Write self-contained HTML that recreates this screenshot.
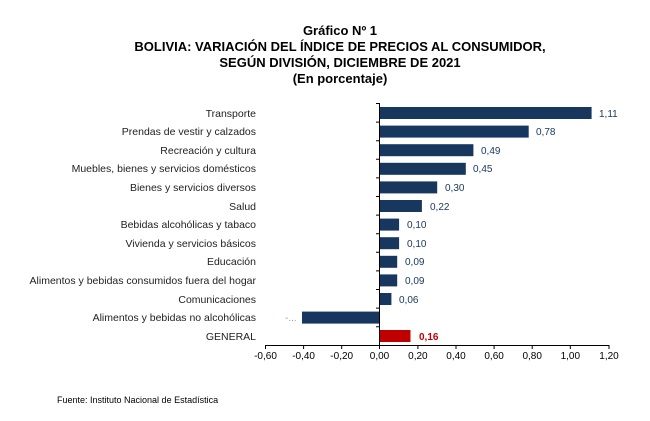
<!DOCTYPE html>
<html><head><meta charset="utf-8"><style>body{margin:0;background:#fff}svg{display:block}</style></head><body>
<svg width="650" height="421" xmlns="http://www.w3.org/2000/svg" font-family="Liberation Sans, Arial, sans-serif">
<rect width="650" height="421" fill="#fff"/>
<g font-weight="bold" font-size="13" text-anchor="middle" fill="#000">
<text x="340" y="35">Gráfico Nº 1</text>
<text x="340" y="51">BOLIVIA: VARIACIÓN DEL ÍNDICE DE PRECIOS AL CONSUMIDOR,</text>
<text x="340" y="67">SEGÚN DIVISIÓN, DICIEMBRE DE 2021</text>
<text x="340" y="83">(En porcentaje)</text>
</g>
<g font-size="10.5" text-anchor="end" fill="#222">
<text x="256" y="117">Transporte</text>
<text x="256" y="135">Prendas de vestir y calzados</text>
<text x="256" y="154">Recreación y cultura</text>
<text x="256" y="172">Muebles, bienes y servicios domésticos</text>
<text x="256" y="191">Bienes y servicios diversos</text>
<text x="256" y="210">Salud</text>
<text x="256" y="228">Bebidas alcohólicas y tabaco</text>
<text x="256" y="247">Vivienda y servicios básicos</text>
<text x="256" y="265">Educación</text>
<text x="256" y="284">Alimentos y bebidas consumidos fuera del hogar</text>
<text x="256" y="303">Comunicaciones</text>
<text x="256" y="321">Alimentos y bebidas no alcohólicas</text>
<text x="256" y="340">GENERAL</text>
</g>
<g fill="#17375e">
<rect x="380" y="107" width="211.6" height="12"/>
<rect x="380" y="125.6" width="148.7" height="12"/>
<rect x="380" y="144.2" width="93.4" height="12"/>
<rect x="380" y="162.8" width="85.8" height="12"/>
<rect x="380" y="181.4" width="57.2" height="12"/>
<rect x="380" y="200" width="41.9" height="12"/>
<rect x="380" y="218.6" width="19.1" height="12"/>
<rect x="380" y="237.2" width="19.1" height="12"/>
<rect x="380" y="255.8" width="17.2" height="12"/>
<rect x="380" y="274.4" width="17.2" height="12"/>
<rect x="380" y="293" width="11.4" height="12"/>
<rect x="302" y="311.6" width="78" height="12"/>
</g>
<rect x="380" y="330" width="30.5" height="12" fill="#c00000"/>
<g font-size="10" fill="#17375e">
<text x="599" y="117">1,11</text>
<text x="536" y="135">0,78</text>
<text x="481" y="154">0,49</text>
<text x="473" y="172">0,45</text>
<text x="445" y="191">0,30</text>
<text x="430" y="210">0,22</text>
<text x="407" y="228">0,10</text>
<text x="407" y="247">0,10</text>
<text x="405" y="265">0,09</text>
<text x="405" y="284">0,09</text>
<text x="399" y="303">0,06</text>
<text x="285" y="321" fill="#8da0b8">-...</text>
</g>
<text x="419" y="340" font-size="10" font-weight="bold" fill="#c00000">0,16</text>
<g stroke="#000" stroke-width="1">
<line x1="265.5" y1="345.5" x2="609.5" y2="345.5"/>
<line x1="379.5" y1="103" x2="379.5" y2="345.5"/>
<path d="M265.5 345v4M303.6 345v4M341.7 345v4M379.5 345v4M417.9 345v4M456 345v4M494.1 345v4M532.2 345v4M570.3 345v4M609 345v4"/>
<path d="M376 103.5h4M376 122.1h4M376 140.7h4M376 159.3h4M376 177.9h4M376 196.5h4M376 215.1h4M376 233.7h4M376 252.3h4M376 270.9h4M376 289.5h4M376 308.1h4M376 326.7h4"/>
</g>
<g font-size="10" text-anchor="middle" fill="#000">
<text x="265.5" y="359">-0,60</text>
<text x="303.6" y="359">-0,40</text>
<text x="341.7" y="359">-0,20</text>
<text x="379.5" y="359">0,00</text>
<text x="417.9" y="359">0,20</text>
<text x="456" y="359">0,40</text>
<text x="494.1" y="359">0,60</text>
<text x="532.2" y="359">0,80</text>
<text x="570.3" y="359">1,00</text>
<text x="609" y="359">1,20</text>
</g>
<text x="57" y="403" font-size="9" fill="#000">Fuente: Instituto Nacional de Estadística</text>
</svg>
</body></html>
